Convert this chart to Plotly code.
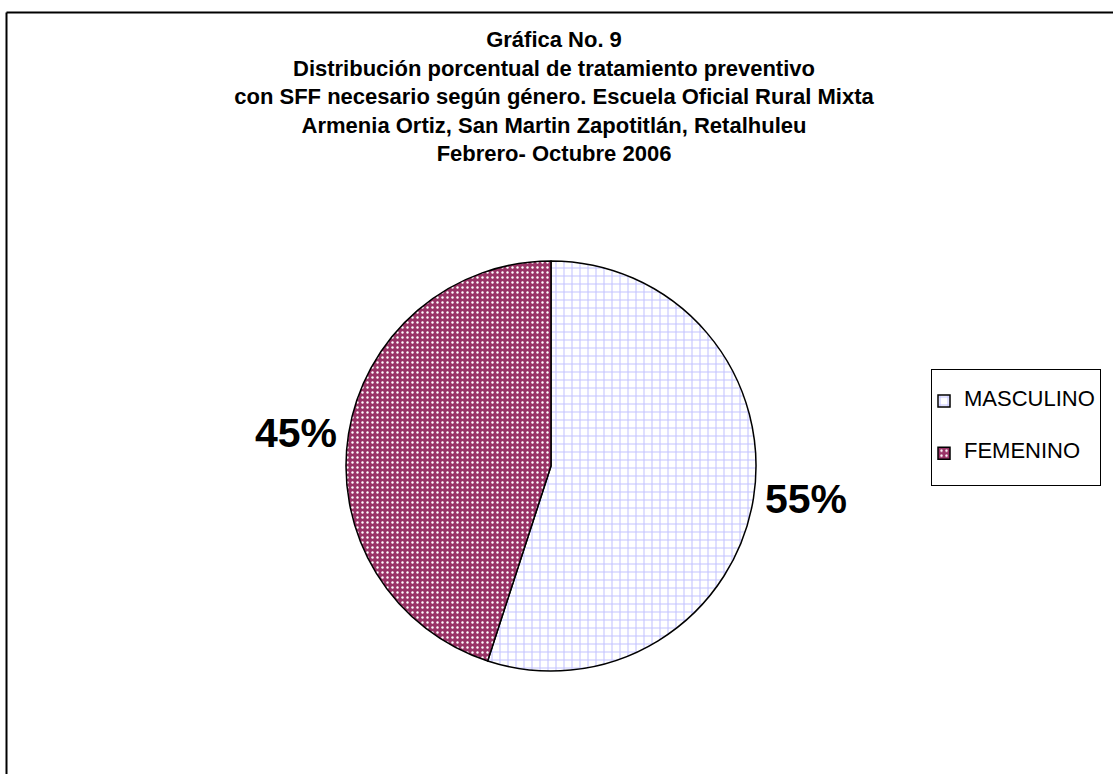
import plotly.graph_objects as go

# ---- data ----
categories = ["MASCULINO", "FEMENINO"]
values = [55, 45]
slice_colors = ["#FFFFFF", "#993366"]
pattern_fg = ["#C4C4FF", "#FFFFFF"]
pattern_shapes = ["+", "."]
title_lines = [
    "Gráfica No. 9",
    "Distribución porcentual de tratamiento preventivo",
    "con SFF necesario según género. Escuela Oficial Rural Mixta",
    "Armenia Ortiz, San Martin Zapotitlán, Retalhuleu",
    "Febrero- Octubre 2006",
]

W, H = 1113, 774
FONT = "Liberation Sans, Arial, sans-serif"

# legend labels: padded with blank lines to reproduce the tall legend rows
legend_labels = [
    "&nbsp;<br><span style='font-size:22px'>" + c + "</span><br>&nbsp;" for c in categories
]

fig = go.Figure()
fig.add_trace(go.Pie(
    labels=legend_labels,
    values=values,
    sort=False,
    direction="clockwise",
    rotation=0,
    marker=dict(
        colors=slice_colors,
        line=dict(color="black", width=1.5),
        pattern=dict(shape=pattern_shapes, bgcolor=slice_colors, fgcolor=pattern_fg,
                     size=[8, 5], solidity=[0.25, 0.18], fillmode="replace"),
    ),
    texttemplate="%{percent:.0%}",
    textposition="outside",
    textfont=dict(family=FONT, size=41, color="black", weight="bold"),
    domain=dict(x=[(551 - 205) / W, (551 + 205) / W], y=[1 - 671 / H, 1 - 261 / H]),
    hoverinfo="label+percent",
))

fig.update_layout(
    width=W, height=H,
    margin=dict(l=0, r=0, t=0, b=0),
    paper_bgcolor="white",
    plot_bgcolor="white",
    title=dict(
        text="<br>".join(title_lines),
        font=dict(family=FONT, size=22, color="black", weight="bold"),
        x=554 / W, xanchor="center",
        y=1 - 47 / H, yanchor="top",
    ),
    legend=dict(
        x=931 / W, xanchor="left",
        y=1 - 369 / H, yanchor="top",
        font=dict(family=FONT, size=12.6, color="black"),
        bordercolor="black", borderwidth=1,
        bgcolor="white",
        indentation=-8,
        itemclick=False,
    ),
    showlegend=True,
    shapes=[
        dict(type="line", xref="paper", yref="paper",
             x0=6.5 / W, x1=6.5 / W, y0=-0.01, y1=1 - 12.5 / H,
             line=dict(color="black", width=2)),
        dict(type="line", xref="paper", yref="paper",
             x0=6.5 / W, x1=1.01, y0=1 - 12.5 / H, y1=1 - 12.5 / H,
             line=dict(color="black", width=2)),
    ],
)

fig.write_html("out.html", config={"displayModeBar": False},
               post_script="document.body.style.margin='0';")
